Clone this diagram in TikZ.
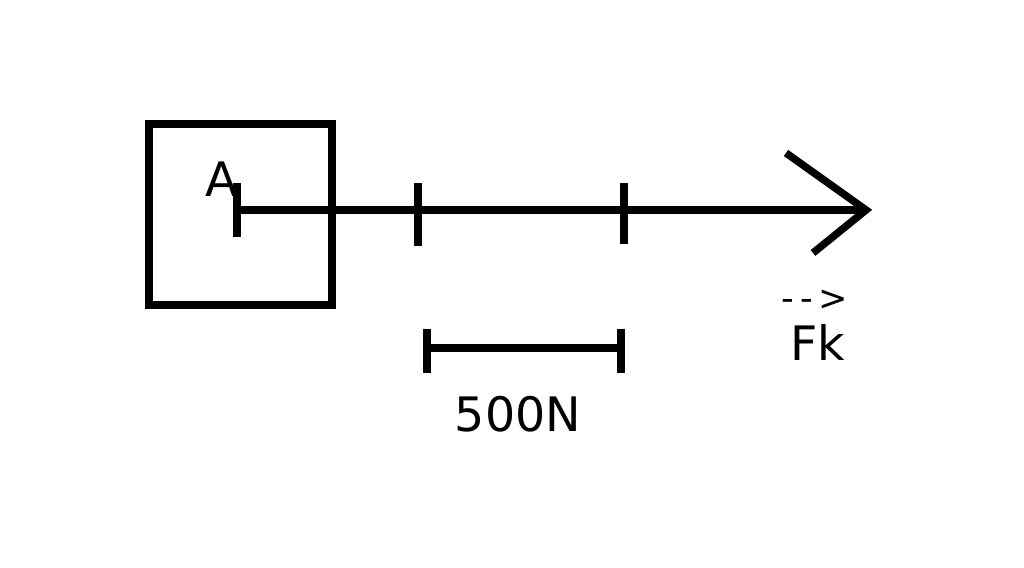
\documentclass[tikz,border=0pt]{standalone}
\usepackage{fontspec}
\setmainfont{DejaVu Sans}
\begin{document}
\begin{tikzpicture}[x=0.01cm,y=-0.01cm,thick line/.style={line width=0.075cm},lbl/.style={inner sep=0pt,font=\fontsize{13.5}{15}\selectfont}]
\useasboundingbox (0,0) rectangle (1024,568);
\node[draw,thick line,minimum width=1.83cm,minimum height=1.81cm,inner sep=0pt] (box) at (240.5,214.5) {};
\node[lbl] (a) at (222,179) {A};
\coordinate (s) at (237,210);
\coordinate (e) at (866,210);
\draw[thick line] (s) -- (e);
\coordinate (t1a) at (237,183); \coordinate (t1b) at (237,237);
\coordinate (t2a) at (418,183); \coordinate (t2b) at (418,246);
\coordinate (t3a) at (624,183); \coordinate (t3b) at (624,244);
\draw[thick line] (t1a) -- (t1b) (t2a) -- (t2b) (t3a) -- (t3b);
\coordinate (h1) at (786,153); \coordinate (h2) at (813,253);
\draw[thick line] (h1) -- (e) -- (h2);
\coordinate (b1) at (427,348); \coordinate (b2) at (621,348);
\draw[thick line] (b1) -- (b2);
\draw[thick line] ([yshift=-0.25cm]b1) -- ([yshift=0.19cm]b1) ([yshift=-0.25cm]b2) -- ([yshift=0.19cm]b2);
\node[lbl] (n) at (518,414) {500N};
\node[lbl,font=\fontsize{10}{11}\selectfont] (arr) at (815,300) {-\,-\,>};
\node[lbl] (f) at (818,342) {Fk};
\end{tikzpicture}
\end{document}
